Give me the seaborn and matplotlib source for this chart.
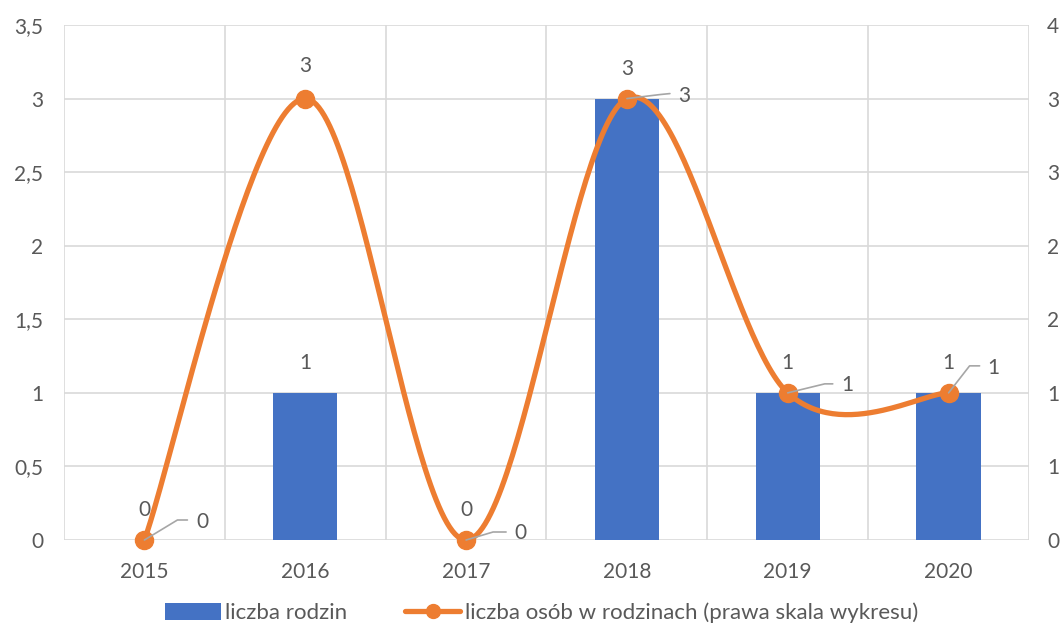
import numpy as np
import matplotlib
matplotlib.use('Agg')
import matplotlib.pyplot as plt
import seaborn as sns
from matplotlib.transforms import ScaledTranslation
from matplotlib.lines import Line2D
from matplotlib.patches import Patch

# data
years = ['2015', '2016', '2017', '2018', '2019', '2020']
families = [0, 1, 0, 3, 1, 1]          # liczba rodzin (bars, left axis)
people = [0, 3, 0, 3, 1, 1]            # liczba osob (line, right axis)
y_ticks = [0, 0.5, 1, 1.5, 2, 2.5, 3, 3.5]
left_tick_labels = ['0', '0,5', '1', '1,5', '2', '2,5', '3', '3,5']
right_tick_labels = ['0', '1', '1', '2', '2', '3', '3', '4']

BLUE = '#4472C4'
ORANGE = '#ED7D31'
GRID = '#D9D9D9'
TEXT = '#595959'
LEADER = '#A6A6A6'

sns.set_style('white')
plt.rcParams['font.family'] = ['Lato', 'DejaVu Sans']
FS = 15


def smooth(xs, ys, n=60):
    # Excel-like smoothed line: cubic bezier through the points
    pts = np.column_stack([xs, ys]).astype(float)
    padded = np.vstack([pts[0], pts, pts[-1]])
    t = np.linspace(0, 1, n)[:, None]
    out = []
    for i in range(len(pts) - 1):
        p0, p3 = pts[i], pts[i + 1]
        p1 = p0 + (padded[i + 2] - padded[i]) / 6
        p2 = p3 - (padded[i + 3] - padded[i + 1]) / 6
        out.append((1 - t) ** 3 * p0 + 3 * (1 - t) ** 2 * t * p1
                   + 3 * (1 - t) * t ** 2 * p2 + t ** 3 * p3)
    return np.vstack(out)


fig = plt.figure(figsize=(10.64, 6.34), dpi=100)
ax = fig.add_axes([64 / 1064, 1 - 540 / 634, (1029 - 64) / 1064, (540 - 25) / 634])

sns.barplot(x=years, y=families, color=BLUE, saturation=1, width=0.4, ax=ax,
            linewidth=0, zorder=2)
ax.set_xlim(-0.5, len(years) - 0.5)
ax.set_ylim(0, 3.5)
ax.set_yticks(y_ticks)
ax.set_yticklabels(left_tick_labels)
ax.set_xticks(np.arange(-0.5, len(years), 1), minor=True)
ax.grid(axis='y', color=GRID, lw=1.2)
ax.grid(axis='x', which='minor', color=GRID, lw=1.2)
ax.set_axisbelow(True)
ax.tick_params(axis='y', length=0, pad=15, labelsize=FS, labelcolor=TEXT)
ax.tick_params(axis='x', which='both', length=0, pad=16, labelsize=FS, labelcolor=TEXT)
ax.set_xlabel('')
ax.set_ylabel('')
for s in ax.spines.values():
    s.set_visible(False)

# bar data labels
for i, v in enumerate(families):
    ax.annotate(str(v), xy=(i, v), xytext=(0, 30), textcoords='offset pixels',
                ha='center', va='center', fontsize=FS, color=TEXT)

ax2 = ax.twinx()
ax2.set_ylim(0, 3.5)
ax2.set_yticks(y_ticks)
ax2.set_yticklabels(right_tick_labels)
ax2.tick_params(axis='y', length=0, pad=13, labelsize=FS, labelcolor=TEXT)
for s in ax2.spines.values():
    s.set_visible(False)
ax2.grid(False)

xs = np.arange(len(years))
curve = smooth(xs, people)
ax2.plot(curve[:, 0], curve[:, 1], color=ORANGE, lw=3.8, solid_capstyle='round',
         clip_on=False, zorder=3)
ax2.plot(xs, people, 'o', color=ORANGE, ms=13, clip_on=False, zorder=4)

# line labels, offsets in pixels (x right, y up) with leader lines
label_offsets = [(58, 18), (0, 33), (54, 7), (57, 3), (60, 8), (45, 25)]
leaders = [[(0, 0), (33, 20), (43, 20)],
           None,
           [(0, 0), (27, 8), (40, 8)],
           [(0, 0), (33, 4), (43, 5)],
           [(0, 0), (37, 9), (45, 9)],
           [(0, 0), (21, 27), (31, 27)]]
for i, v in enumerate(people):
    dx, dy = label_offsets[i]
    ax2.annotate(str(v), xy=(i, v), xytext=(dx, dy), textcoords='offset pixels',
                 ha='center', va='center', fontsize=FS, color=TEXT, zorder=5)
    if leaders[i] is not None:
        lx, ly = zip(*leaders[i])
        tr = ScaledTranslation(i, v, ax2.transData)
        fig.add_artist(Line2D(lx, ly, transform=tr, color=LEADER, lw=1.2, zorder=5))

handles = [Patch(facecolor=BLUE, edgecolor='none'),
           Line2D([], [], color=ORANGE, lw=3.8, marker='o', ms=10)]
fig.legend(handles, ['liczba rodzin', 'liczba osób w rodzinach (prawa skala wykresu)'],
           loc='center', bbox_to_anchor=(0.509, 1 - 613 / 634), ncol=2, frameon=False,
           fontsize=16, labelcolor=TEXT, handlelength=2.5, handleheight=0.85,
           handletextpad=0.2, columnspacing=2.6)

fig.savefig('out.png', dpi=100)
